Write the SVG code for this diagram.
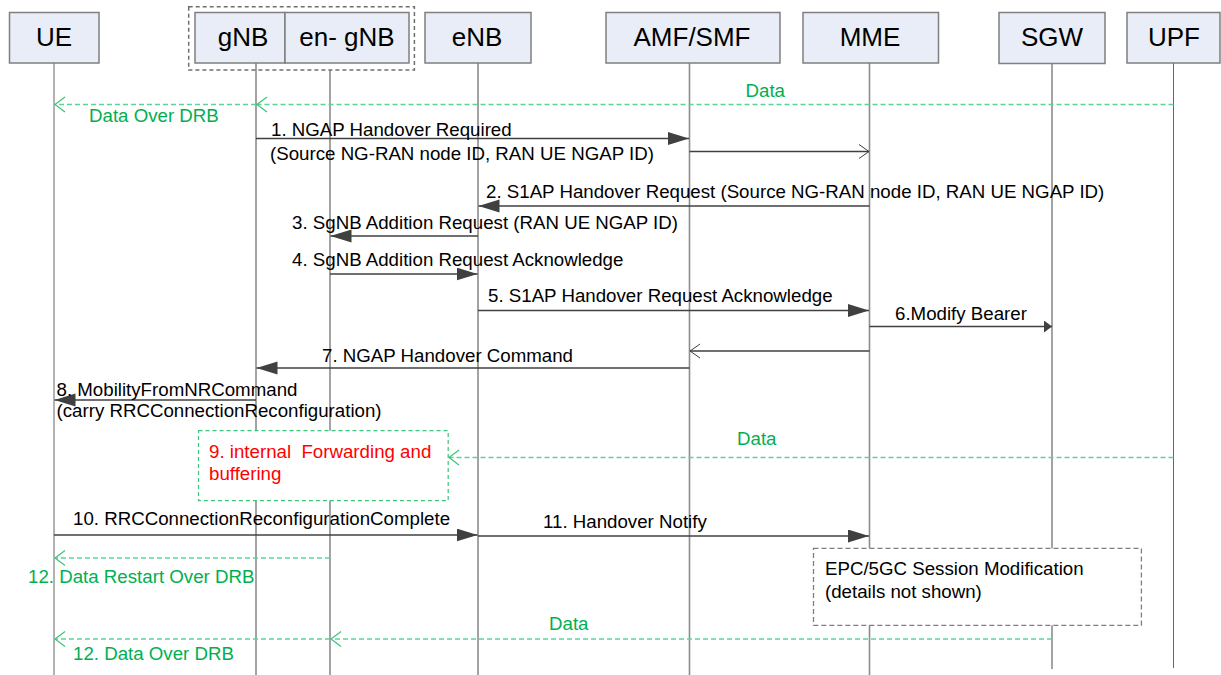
<svg xmlns="http://www.w3.org/2000/svg" width="1221" height="675" viewBox="0 0 1221 675">
<style>
.box{fill:#E8EDF7;stroke:#7F7F7F;stroke-width:1.5}
.hd{font-family:"Liberation Sans",Arial,sans-serif;font-size:26px;fill:#000;text-anchor:middle}
.life{stroke:#8C8C8C;stroke-width:1.6;fill:none}
.life2{stroke:#666;stroke-width:1;fill:none}
.msg{stroke:#404040;stroke-width:1.3;fill:none}
.dat{stroke:#5CD39A;stroke-width:1.4;stroke-dasharray:5,3;fill:none}
.t{font-family:"Liberation Sans",Arial,sans-serif;font-size:18.7px;fill:#000;white-space:pre}
.g{fill:#00B050}
.r{fill:#FF0000}
</style>
<defs>
<marker id="fa" markerUnits="userSpaceOnUse" markerWidth="22" markerHeight="14" refX="21" refY="6.5" orient="auto"><path d="M0,0 L21,6.5 L0,13 z" fill="#404040"/></marker>
<marker id="fs" markerUnits="userSpaceOnUse" markerWidth="9" markerHeight="13" refX="8" refY="6" orient="auto"><path d="M0,0 L8,6 L0,12 z" fill="#404040"/></marker>
<marker id="og" markerUnits="userSpaceOnUse" markerWidth="12" markerHeight="16" refX="10" refY="7" orient="auto" overflow="visible"><path d="M0,0 L10,7 L0,14" fill="none" stroke="#404040" stroke-width="1"/></marker>
<marker id="ogr" markerUnits="userSpaceOnUse" markerWidth="12" markerHeight="16" refX="10" refY="7.5" orient="auto" overflow="visible"><path d="M0,0 L10,7.5 L0,15" fill="none" stroke="#3CC47C" stroke-width="1.2"/></marker>
</defs>
<rect width="1221" height="675" fill="#fff"/>

<g id="lifelines">
<line class="life2" x1="54" y1="63" x2="54" y2="675"/>
<line class="life" x1="256" y1="63" x2="256" y2="675"/>
<line class="life" x1="330" y1="70" x2="330" y2="675"/>
<line class="life" x1="478" y1="63" x2="478" y2="675"/>
<line class="life" x1="689.5" y1="63" x2="689.5" y2="675"/>
<line class="life" x1="869.5" y1="63" x2="869.5" y2="675"/>
<line class="life" x1="1052" y1="64" x2="1052" y2="669"/>
<line class="life2" x1="1173.5" y1="63" x2="1173.5" y2="668"/>
</g>

<g id="ran-group">
<rect x="188.7" y="6.7" width="225.7" height="63.3" fill="none" stroke="#6F6F6F" stroke-width="1.5" stroke-dasharray="4,3"/>
</g>
<g id="UE"><rect class="box" x="9.5" y="12.5" width="89.5" height="50.5"/><text class="hd" x="54" y="45.5">UE</text></g>
<g id="gNB"><rect class="box" x="195" y="12.5" width="90" height="50.5"/><text class="hd" x="243" y="45.5">gNB</text></g>
<g id="en-gNB"><rect class="box" x="285" y="12.5" width="124" height="50.5"/><text class="hd" x="347" y="45.5">en- gNB</text></g>
<g id="eNB"><rect class="box" x="425" y="12.5" width="106" height="50.5"/><text class="hd" x="477" y="45.5">eNB</text></g>
<g id="AMF-SMF"><rect class="box" x="606" y="12.5" width="174" height="50.5"/><text class="hd" x="692" y="45.5">AMF/SMF</text></g>
<g id="MME"><rect class="box" x="803" y="12.5" width="135.5" height="50.5"/><text class="hd" x="870" y="45.5">MME</text></g>
<g id="SGW"><rect class="box" x="999" y="12.5" width="106" height="51"/><text class="hd" x="1052" y="45.5">SGW</text></g>
<g id="UPF"><rect class="box" x="1127" y="12.5" width="93" height="50.5"/><text class="hd" x="1174" y="45.5">UPF</text></g>

<g id="box9">
<rect x="198.5" y="430.7" width="249.7" height="70" fill="#fff" stroke="#3CC47C" stroke-width="1.2" stroke-dasharray="4,3"/>
<text class="t r" x="209" y="458">9. internal  Forwarding and</text>
<text class="t r" x="209" y="480">buffering</text>
</g>
<g id="epc-box">
<rect x="813.5" y="548.3" width="327.9" height="77" fill="#fff" stroke="#7F7F7F" stroke-width="1.3" stroke-dasharray="5,3"/>
<text class="t" x="825" y="575">EPC/5GC Session Modification</text>
<text class="t" x="825" y="598">(details not shown)</text>
</g>

<g id="connectors">
<line class="dat" x1="1173.5" y1="104.5" x2="257" y2="104.5" marker-end="url(#ogr)"/>
<line class="dat" x1="256" y1="104.5" x2="55" y2="104.5" marker-end="url(#ogr)"/>
<text class="t g" x="745.5" y="97">Data</text>
<text class="t g" x="89" y="122">Data Over DRB</text>

<line class="msg" x1="256" y1="138.5" x2="689" y2="138.5" marker-end="url(#fa)"/>
<text class="t" x="271" y="136">1. NGAP Handover Required</text>
<text class="t" x="270" y="160">(Source NG-RAN node ID, RAN UE NGAP ID)</text>
<line class="msg" x1="689.5" y1="151.5" x2="869" y2="151.5" marker-end="url(#og)"/>

<line class="msg" x1="869.5" y1="206" x2="478.5" y2="206" marker-end="url(#fa)"/>
<text class="t" x="486" y="198">2. S1AP Handover Request (Source NG-RAN node ID, RAN UE NGAP ID)</text>

<line class="msg" x1="478" y1="236" x2="330.5" y2="236" marker-end="url(#fa)"/>
<text class="t" x="292" y="229">3. SgNB Addition Request (RAN UE NGAP ID)</text>

<line class="msg" x1="330" y1="274" x2="477.5" y2="274" marker-end="url(#fa)"/>
<text class="t" x="292" y="266">4. SgNB Addition Request Acknowledge</text>

<line class="msg" x1="478" y1="310.5" x2="869" y2="310.5" marker-end="url(#fa)"/>
<text class="t" x="488" y="301.5">5. S1AP Handover Request Acknowledge</text>

<line class="msg" x1="869.5" y1="326.5" x2="1052" y2="326.5" marker-end="url(#fs)"/>
<text class="t" x="895" y="320">6.Modify Bearer</text>

<line class="msg" x1="869.5" y1="351" x2="690" y2="351" marker-end="url(#og)"/>

<line class="msg" x1="689.5" y1="368" x2="256.5" y2="368" marker-end="url(#fa)"/>
<text class="t" x="322" y="361.5">7. NGAP Handover Command</text>

<line class="msg" x1="256" y1="400" x2="54.5" y2="400" marker-end="url(#fa)"/>
<text class="t" x="56.5" y="396">8. MobilityFromNRCommand</text>
<text class="t" x="56.5" y="417">(carry RRCConnectionReconfiguration)</text>

<line class="dat" x1="1173.5" y1="457.5" x2="449" y2="457.5" marker-end="url(#ogr)"/>
<text class="t g" x="737" y="445">Data</text>

<line class="msg" x1="54" y1="535" x2="477.5" y2="535" marker-end="url(#fa)"/>
<text class="t" x="73" y="525">10. RRCConnectionReconfigurationComplete</text>

<line class="msg" x1="478" y1="536" x2="869" y2="536" marker-end="url(#fa)"/>
<text class="t" x="543" y="528">11. Handover Notify</text>

<line class="dat" x1="330" y1="558" x2="55" y2="558" marker-end="url(#ogr)"/>
<text class="t g" x="28" y="583">12. Data Restart Over DRB</text>

<line class="dat" x1="1052" y1="639" x2="331" y2="639" marker-end="url(#ogr)"/>
<line class="dat" x1="330" y1="639" x2="55" y2="639" marker-end="url(#ogr)"/>
<text class="t g" x="549" y="630">Data</text>
<text class="t g" x="73" y="660">12. Data Over DRB</text>
</g>
</svg>
